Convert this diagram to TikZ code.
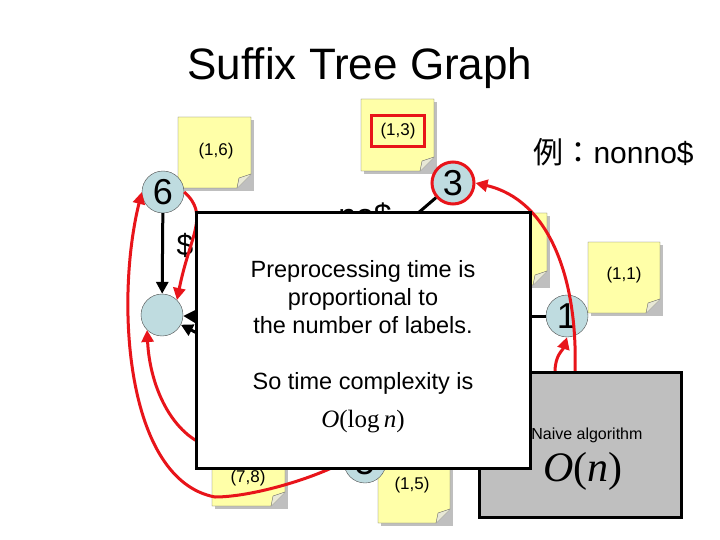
\documentclass[tikz,border=0pt]{standalone}
\usepackage{fontspec}
\setmainfont{Liberation Sans}
\newfontfamily\cjk{Noto Sans CJK JP}
\newfontfamily\tms{Liberation Serif}
\usetikzlibrary{arrows.meta}
\definecolor{noteY}{HTML}{FFFFA8}
\definecolor{nodeB}{HTML}{BFDCE0}
\definecolor{redE}{HTML}{E8141A}
\begin{document}
\begin{tikzpicture}[x=1pt,y=-1pt,
 vx/.style={circle,draw=black!70,fill=nodeB,minimum size=42pt,inner sep=0pt,font=\fontsize{36}{36}\selectfont},
 blk/.style={line width=3pt,-{Triangle[length=12pt,width=12pt]}},
 red/.style={draw=redE,line width=3pt,-{Triangle[length=12pt,width=12pt]}},
 lbl/.style={font=\fontsize{17}{17}\selectfont}]
\useasboundingbox (0,0) rectangle (720,540);
\fill[white] (0,0) rectangle (720,540);
\newcommand{\note}[5]{%
 \fill[black!25] (#1+3,#2+3) rectangle (#3+3,#4+3);
 \draw[fill=noteY,draw=black!60] (#1,#2) -- (#3,#2) -- (#3,#4-14) -- (#3-14,#4) -- (#1,#4) -- cycle;
 \draw[fill=noteY!70!black!30,draw=black!60] (#3,#4-14) -- (#3-12,#4-10) -- (#3-14,#4);
 \coordinate (#5) at ({(#1+#3)/2},{(#2+#4)/2});}
\node[font=\fontsize{44}{44}\selectfont] (title) at (360,68) {Suffix Tree Graph};
\node[font=\fontsize{30}{30}\selectfont,anchor=west] (ex) at (530,152) {{\cjk 例：}nonno\$};
% notes
\note{178}{117}{251}{188}{n16}
\node[lbl] (t16) at (216,151) {(1,6)};
\note{361}{99}{434}{171}{n13}
\node[lbl,draw=redE,line width=3pt,minimum width=53pt,minimum height=31pt] (t13) at (398,131) {(1,3)};
\note{480}{213}{547}{285}{nh}
\note{588}{242}{660}{313}{n11}
\node[lbl] (t11) at (624,275) {(1,1)};
\note{212}{440}{285}{506}{n78}
\node[lbl] (t78) at (248,478) {(7,8)};
\note{378}{455}{450}{523}{n15}
\node[lbl] (t15) at (412,485) {(1,5)};
% vertices
\node[vx] (v6) at (163,192) {6};
\node[vx,draw=redE,line width=3pt] (v3) at (453,183) {3};
\node[vx] (r) at (162,315) {};
\node[vx] (v1) at (567,316) {1};
\node[vx] (v5) at (365,462) {5};
% black edges
\draw[blk] (v6) -- (r);
\node[font=\fontsize{30}{30}\selectfont] (d) at (185,245) {\$};
\node[font=\fontsize{32}{32}\selectfont] (no) at (365,216) {no\$};
\draw[line width=3pt] (v3) -- (410,220);
\draw[line width=3pt] (v1) -- (520,316);
\draw[blk] (230,318) -- (r);
\draw[blk] (230,350) -- (r);
% red edges
\draw[red] (v5.west) .. controls (310,480) and (250,497) .. (215,497) .. controls (125,480) and (115,300) .. (v6.west);
\draw[red] (215,448) .. controls (175,440) and (150,390) .. (r.south west);
\draw[red] (v6.east) .. controls (210,215) and (190,235) .. (r.north east);
\draw[red] (575,372) .. controls (578,280) and (550,200) .. (v3.east);
\draw[red] (555,372) .. controls (555,355) and (563,350) .. (v1.south);
% boxes
\draw[line width=3pt,fill=black!25] (479,372) rectangle (681,517);
\node[font=\fontsize{16}{16}\selectfont,anchor=east] (na) at (646,435) {Naive algorithm};
\node[font=\fontsize{42}{42}\selectfont] (on) at (583,471) {\tms\textit{O}(\textit{n})};
\draw[line width=3pt,fill=white] (196,213) rectangle (530,468);
\node[font=\fontsize{23.5}{28}\selectfont,align=center] (m) at (363,297) {Preprocessing time is\\proportional to\\the number of labels.};
\node[font=\fontsize{23.5}{23.5}\selectfont] (s) at (363,383) {So time complexity is};
\node[font=\fontsize{25}{25}\selectfont] (lg) at (363,422) {\tms\textit{O}(log\,\textit{n})};
\end{tikzpicture}
\end{document}
